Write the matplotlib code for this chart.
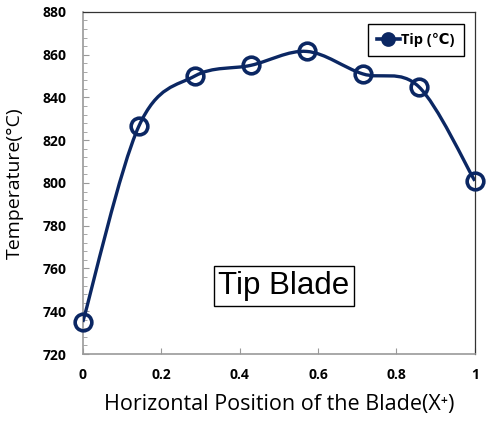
import numpy as np
import matplotlib
matplotlib.use("Agg")
import matplotlib.pyplot as plt
from matplotlib.path import Path
from matplotlib.patches import PathPatch
from matplotlib.lines import Line2D

# data
positions = [0, 1/7, 2/7, 3/7, 4/7, 5/7, 6/7, 1]
tip_temp = [735, 826.5, 850, 855, 861.5, 851, 845, 801]
xticks = [0, 0.2, 0.4, 0.6, 0.8, 1]
yticks = [720, 740, 760, 780, 800, 820, 840, 860, 880]

navy = "#0b2763"


def smooth_path(xs, ys):
    # Excel-like smoothed line: catmull-rom segments as cubic beziers
    pts = np.column_stack([xs, ys]).astype(float)
    verts = [pts[0]]
    codes = [Path.MOVETO]
    n = len(pts)
    for i in range(n - 1):
        p0 = pts[max(i - 1, 0)]
        p1 = pts[i]
        p2 = pts[i + 1]
        p3 = pts[min(i + 2, n - 1)]
        c1 = p1 + (p2 - p0) / 6
        c2 = p2 - (p3 - p1) / 6
        verts += [c1, c2, p2]
        codes += [Path.CURVE4] * 3
    return Path(verts, codes)


fig = plt.figure(figsize=(4.9, 4.24), dpi=100)
ax = fig.add_axes([0.169, 0.165, 0.8, 0.807])

ax.add_patch(PathPatch(smooth_path(positions, tip_temp), fill=False,
                       edgecolor=navy, lw=2.4, zorder=3))
ax.plot(positions, tip_temp, ls="none", marker="o", ms=12, mfc="none",
        mec=navy, mew=2.6, zorder=4, clip_on=False)

ax.set_xlim(0, 1)
ax.set_ylim(720, 880)
ax.set_xticks(xticks)
ax.set_xticklabels([f"{t:g}" for t in xticks])
ax.set_yticks(yticks)
ax.set_yticks(np.arange(720, 881, 4), minor=True)
ax.tick_params(axis="both", which="both", direction="in", colors="#999999",
               labelcolor="black")
ax.tick_params(axis="y", which="major", length=4, pad=12)
ax.tick_params(axis="y", which="minor", length=3)
ax.tick_params(axis="x", which="major", length=4, pad=10)
for lab in ax.get_xticklabels() + ax.get_yticklabels():
    lab.set_fontfamily("Open Sans")
    lab.set_fontweight("bold")
    lab.set_fontsize(10)

for side in ["left", "bottom"]:
    ax.spines[side].set_color("#9a9a9a")
    ax.spines[side].set_linewidth(1.2)
for side in ["top", "right"]:
    ax.spines[side].set_color("#333333")
    ax.spines[side].set_linewidth(0.9)

ax.set_xlabel("Horizontal Position of the Blade(X\u207a)", fontfamily="Open Sans",
              fontsize=15.5, labelpad=9)
ax.set_ylabel("Temperature(\u00b0C)", fontfamily="Open Sans", fontsize=14,
              labelpad=13)

ax.text(0.513, 751.8, "Tip Blade", transform=ax.get_yaxis_transform(),
        ha="center", va="center", fontfamily="Liberation Sans", fontsize=22.5,
        bbox=dict(boxstyle="square,pad=0.15", fc="white", ec="black", lw=1))

handle = Line2D([], [], color=navy, lw=2.6, marker="o", ms=8, mfc=navy,
                mec=navy, mew=2.6)
leg = ax.legend([handle], ["Tip (\u2103)"], loc="upper right",
                bbox_to_anchor=(0.99, 0.985), fancybox=False, framealpha=1,
                edgecolor="black", handlelength=1.6, handletextpad=0.1,
                borderpad=0.6, prop={"family": ["Open Sans", "DejaVu Sans"],
                                     "weight": "bold", "size": 10.5})
leg.get_frame().set_linewidth(1)

fig.savefig("out.png", dpi=100)
